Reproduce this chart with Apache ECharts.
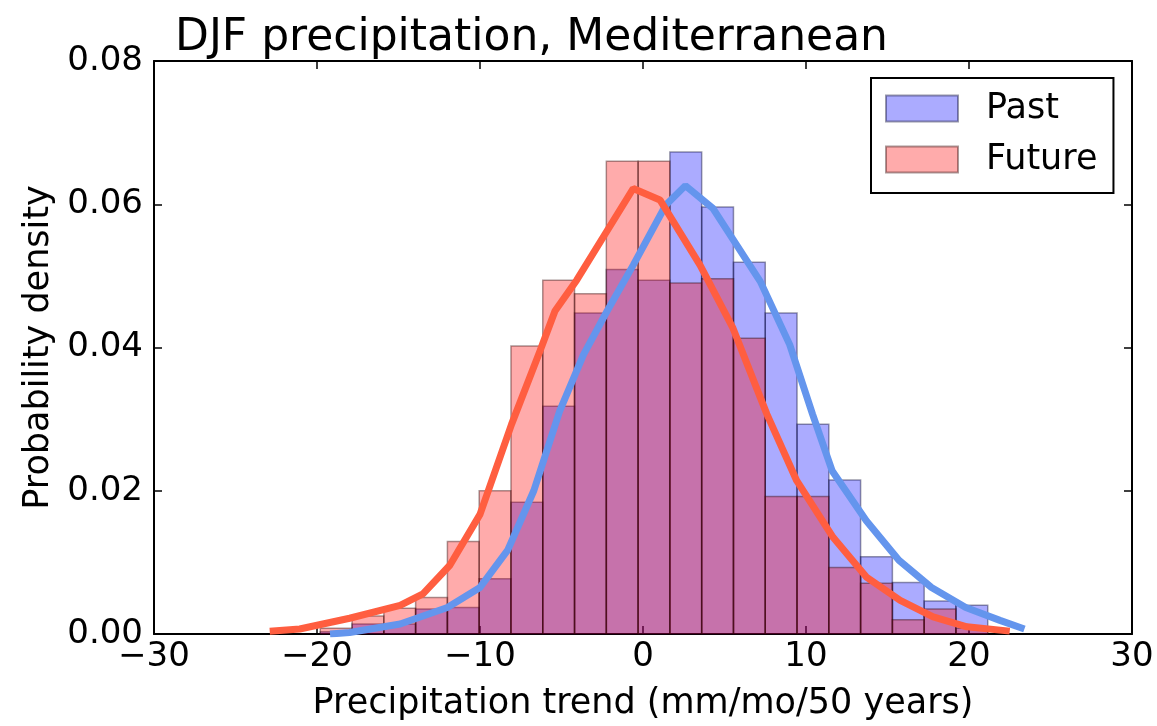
<!DOCTYPE html>
<html lang="en">
<head>
    <meta charset="UTF-8">
    <title>DJF precipitation, Mediterranean</title>
    <script src="https://cdn.jsdelivr.net/npm/echarts@6/dist/echarts.min.js"></script>
    <style>
        html, body { margin: 0; padding: 0; background: #fff; }
    </style>
</head>
<body>
<div id="myChart" style="width: 1157px;height: 726px;"></div>
<script>
    // histogram bins (shared by both periods)
    var binEdges = [-19.8, -17.85, -15.9, -13.95, -12.0, -10.05, -8.1, -6.15, -4.2, -2.25, -0.3,
        1.65, 3.6, 5.55, 7.5, 9.45, 11.4, 13.35, 15.3, 17.25, 19.2, 21.15];
    var pastDensity = [0.0003, 0.0014, 0.0014, 0.0035, 0.0037, 0.0077, 0.0184, 0.0318, 0.0448, 0.0509,
        0.0494, 0.0673, 0.0596, 0.0519, 0.0448, 0.0293, 0.0215, 0.0108, 0.0072, 0.0046, 0.0040];
    var futureDensity = [0.0008, 0.0025, 0.0036, 0.0051, 0.0129, 0.0200, 0.0402, 0.0494, 0.0475, 0.0660,
        0.0660, 0.0490, 0.0496, 0.0413, 0.0192, 0.0192, 0.0093, 0.0071, 0.0020, 0.0035, 0.0008];

    // smoothed density curves
    var pastKdeX = [-19.2, -18.0, -14.9, -12.0, -10.0, -8.3, -6.7, -5.1, -3.65, -2.2, -0.6, 1.4, 2.6,
        4.3, 7.2, 9.0, 10.4, 11.6, 13.7, 15.7, 17.7, 19.8, 21.9, 23.4];
    var pastKdeY = [0.0000, 0.0002, 0.0014, 0.0037, 0.0065, 0.0117, 0.0200, 0.0312, 0.0390, 0.0451,
        0.0515, 0.0599, 0.0626, 0.0594, 0.0492, 0.0404, 0.0307, 0.0228, 0.0158, 0.0103, 0.0065,
        0.0037, 0.0019, 0.0007];
    var futureKdeX = [-22.9, -21.06, -18.0, -14.9, -13.5, -11.85, -10.0, -8.06, -6.32, -5.4, -4.07,
        -0.6, 1.04, 3.5, 5.52, 7.6, 9.43, 11.66, 13.73, 15.78, 17.8, 19.87, 22.5];
    var futureKdeY = [0.0004, 0.0007, 0.0022, 0.0040, 0.0056, 0.0096, 0.0167, 0.0293, 0.0395, 0.0451,
        0.0494, 0.0622, 0.0606, 0.0515, 0.0427, 0.0307, 0.0214, 0.0135, 0.0079, 0.0047, 0.0024,
        0.0010, 0.0004];

    var FONT = 'DejaVu Sans';

    function binData(values) {
        var out = [];
        for (let i = 0; i < values.length; i++) {
            out.push([binEdges[i], binEdges[i + 1], values[i]]);
        }
        return out;
    }
    function pairs(xs, ys) {
        var out = [];
        for (let i = 0; i < xs.length; i++) out.push([xs[i], ys[i]]);
        return out;
    }
    function renderBar(params, api) {
        var p0 = api.coord([api.value(0), api.value(2)]);
        var p1 = api.coord([api.value(1), 0]);
        return {
            type: 'rect',
            shape: { x: p0[0], y: p0[1], width: p1[0] - p0[0], height: p1[1] - p0[1] },
            style: api.style()
        };
    }
    function minusLabel(v) {
        return String(v).replace('-', '\u2212');
    }

    var chart = echarts.init(document.getElementById('myChart'));
    var tickStyle = { show: true, inside: true, length: 8, lineStyle: { color: '#000', width: 1.5 } };
    var lineStyle = { show: true, onZero: false, lineStyle: { color: '#000', width: 2 } };

    chart.setOption({
        animation: false,
        backgroundColor: '#fff',
        textStyle: { fontFamily: FONT },
        title: {
            text: 'DJF precipitation, Mediterranean',
            left: 170,
            top: 12,
            textStyle: { fontFamily: FONT, fontSize: 44, fontWeight: 'normal', color: '#000' }
        },
        legend: {
            data: ['Past', 'Future'],
            orient: 'vertical',
            left: 871,
            top: 78,
            padding: [13, 16, 16, 14],
            itemWidth: 72,
            itemHeight: 26,
            itemGap: 16,
            borderColor: '#000',
            borderWidth: 2,
            borderRadius: 0,
            backgroundColor: '#fff',
            icon: 'rect',
            selectedMode: false,
            textStyle: { fontFamily: FONT, fontSize: 35, color: '#000', padding: [0, 0, 0, 23] }
        },
        grid: { left: 154, right: 25, top: 61, bottom: 89, containLabel: false },
        xAxis: [{
            type: 'value', min: -30, max: 30, interval: 10,
            name: 'Precipitation trend (mm/mo/50 years)',
            nameLocation: 'middle', nameGap: 52,
            nameTextStyle: { fontFamily: FONT, fontSize: 35, color: '#000' },
            axisLine: lineStyle, axisTick: tickStyle,
            axisLabel: { fontFamily: FONT, fontSize: 34, color: '#000', margin: 6, formatter: minusLabel },
            splitLine: { show: false }
        }, {
            type: 'value', min: -30, max: 30, interval: 10, position: 'top',
            axisLine: lineStyle, axisTick: tickStyle, axisLabel: { show: false }, splitLine: { show: false }
        }],
        yAxis: [{
            type: 'value', min: 0, max: 0.08, interval: 0.02,
            name: 'Probability density',
            nameLocation: 'middle', nameGap: 98, nameRotate: 90,
            nameTextStyle: { fontFamily: FONT, fontSize: 35, color: '#000' },
            axisLine: lineStyle, axisTick: tickStyle,
            axisLabel: { fontFamily: FONT, fontSize: 34, color: '#000', margin: 11,
                formatter: function (v) { return v.toFixed(2); } },
            splitLine: { show: false }
        }, {
            type: 'value', min: 0, max: 0.08, interval: 0.02, position: 'right',
            axisLine: lineStyle, axisTick: tickStyle, axisLabel: { show: false }, splitLine: { show: false }
        }],
        series: [
            {
                name: 'Past',
                type: 'custom',
                renderItem: renderBar,
                encode: { x: [0, 1], y: 2 },
                itemStyle: { color: 'rgba(0,0,255,0.33)', borderColor: 'rgba(0,0,40,0.4)', borderWidth: 1.5 },
                data: binData(pastDensity),
                z: 2
            },
            {
                name: 'Future',
                type: 'custom',
                renderItem: renderBar,
                encode: { x: [0, 1], y: 2 },
                itemStyle: { color: 'rgba(255,0,0,0.33)', borderColor: 'rgba(40,0,0,0.4)', borderWidth: 1.5 },
                data: binData(futureDensity),
                z: 3
            },
            {
                name: 'Past KDE',
                type: 'line',
                symbol: 'none',
                lineStyle: { color: 'rgb(100,149,237)', width: 7 },
                itemStyle: { color: 'rgb(100,149,237)' },
                data: pairs(pastKdeX, pastKdeY),
                z: 4
            },
            {
                name: 'Future KDE',
                type: 'line',
                symbol: 'none',
                lineStyle: { color: 'rgb(255,94,64)', width: 7 },
                itemStyle: { color: 'rgb(255,94,64)' },
                data: pairs(futureKdeX, futureKdeY),
                z: 5
            }
        ]
    });
</script>
</body>
</html>
